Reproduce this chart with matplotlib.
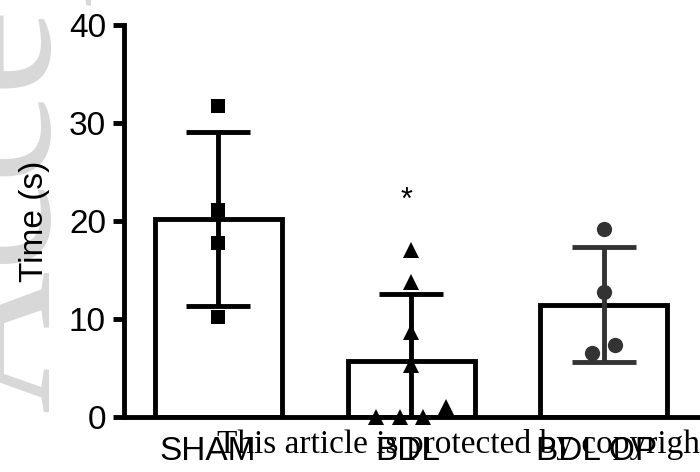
import numpy as np
import matplotlib
matplotlib.use('Agg')
import matplotlib.pyplot as plt

plt.rcParams['font.family'] = ['Liberation Sans', 'DejaVu Sans']

# group names and the individual animals in each group
groups = ['SHAM', 'BDL', 'BDL OP']
sham = [31.7, 21.1, 17.8, 10.2]
bdl = [17.0, 13.8, 8.7, 5.3, 1.0, 0.0, 0.0, 0.0]
bdl_op = [19.2, 12.75, 7.35, 6.5]

# horizontal jitter of the points inside each bar
sham_dx = [0, 0, 0, 0]
bdl_dx = [0, 0, 0, 0, 0.18, -0.18, -0.06, 0.06]
bdl_op_dx = [0, 0, 0.06, -0.06]

values = [sham, bdl, bdl_op]
jitter = [sham_dx, bdl_dx, bdl_op_dx]
markers = ['s', '^', 'o']
marker_sizes = [10.5, 11, 11]
colors = ['black', 'black', '#333333']
label_dx = [-0.057, -0.02, -0.036]

means = [np.mean(v) for v in values]
sds = [np.std(v, ddof=1) for v in values]
x = np.arange(len(groups))

fig = plt.figure(figsize=(7, 4.72), dpi=100)
ax = fig.add_axes([124 / 700, 1 - 417 / 472, 595.5 / 700, 392 / 472])
ax.set_facecolor('none')

lw = 3.5
ax.bar(x, means, width=0.66, facecolor='white', edgecolor='black',
       linewidth=lw, zorder=2)
for i in range(len(groups)):
    ax.errorbar(x[i], means[i], yerr=sds[i], fmt='none', ecolor=colors[i],
                elinewidth=lw, capsize=23, capthick=lw, zorder=3)
    ax.plot(x[i] + np.array(jitter[i]), values[i], linestyle='none',
            marker=markers[i], markersize=marker_sizes[i], color=colors[i],
            markeredgewidth=0, clip_on=False, zorder=4)

# significance mark above BDL
ax.text(x[1] - 0.025, 22.0, '*', ha='center', va='center', fontsize=22)

ax.set_xlim(-0.49, 2.6)
ax.set_ylim(0, 40)
ax.set_yticks([0, 10, 20, 30, 40])
ax.set_xticks(x + np.array(label_dx))
ax.set_xticklabels(groups, fontsize=24)
ax.tick_params(axis='y', length=8, width=lw, labelsize=24, pad=5)
ax.tick_params(axis='x', length=0, pad=14)
ax.set_ylabel('Time (s)', fontsize=24)
ax.yaxis.set_label_coords(-0.124, 0.5)

for side in ['top', 'right']:
    ax.spines[side].set_visible(False)
for side in ['left', 'bottom']:
    ax.spines[side].set_linewidth(lw)

# journal watermarks
fig.text(50 / 700, 1 - 413 / 472, 'Accepted Article', family='Liberation Serif',
         fontsize=142, color='#d8d8d8', rotation=90, rotation_mode='anchor',
         ha='left', va='baseline', zorder=-1)
fig.text(217 / 700, 1 - 453 / 472, 'This article is protected by copyright. All rights reserved',
         family='Liberation Serif', fontsize=24, color='black',
         ha='left', va='baseline', zorder=10)

fig.savefig('out.png', dpi=100)
